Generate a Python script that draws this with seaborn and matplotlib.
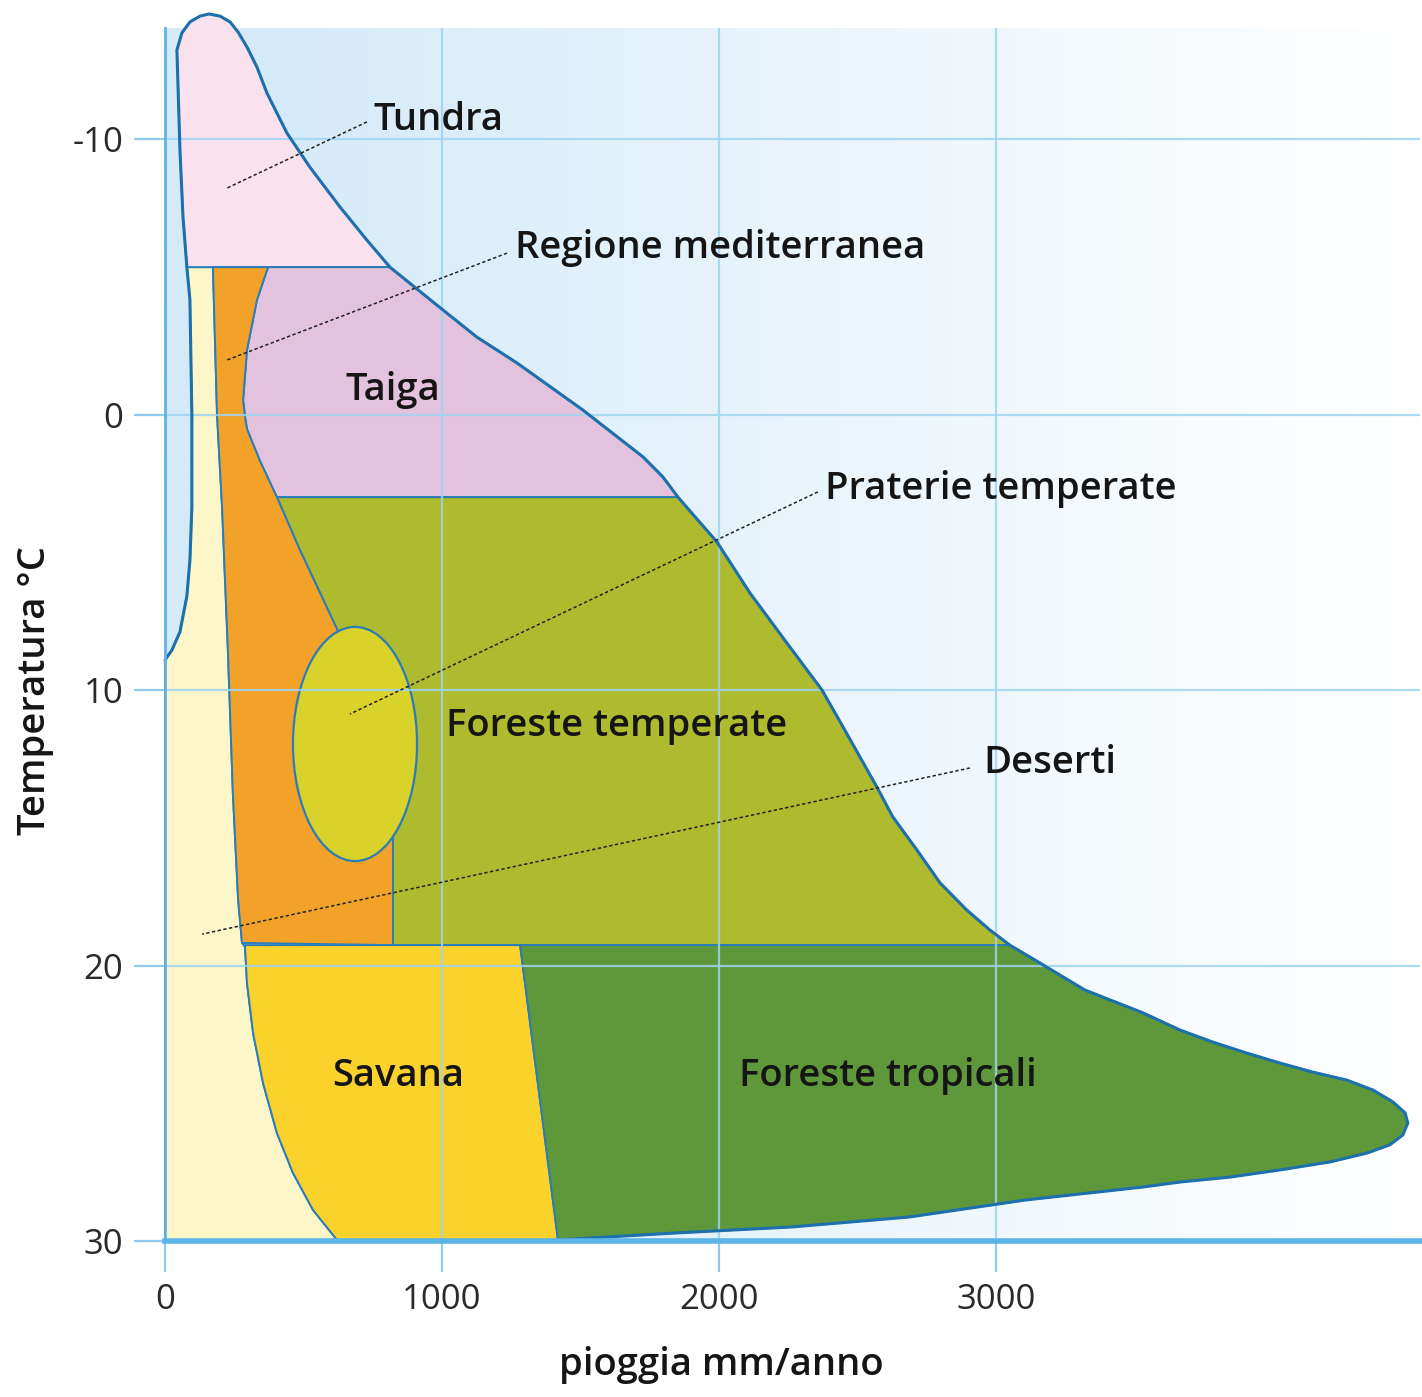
import numpy as np
import pandas as pd
import matplotlib
matplotlib.use("Agg")
import matplotlib.pyplot as plt
from matplotlib.patches import Ellipse
import seaborn as sns

sns.set_theme(style="white")
plt.rcParams["font.family"] = ["Open Sans", "DejaVu Sans"]

# ---- axis values --------------------------------------------------------
x_ticks = [0, 1000, 2000, 3000]
x_tick_labels = ["0", "1000", "2000", "3000"]
y_ticks = [-10, 0, 10, 20, 30]
y_tick_labels = ["-10", "0", "10", "20", "30"]
x_max = 4531
y_top, y_bottom = -14.03, 30

# ---- biome boundaries (rain mm/anno, temperature °C) --------------------
# outer edge on the dry side, from the axis up to the tundra
edge_left_x = [0, 25, 54, 79, 90, 97, 97, 90, 79]
edge_left_y = [8.91, 8.55, 7.89, 6.59, 5.28, 3.36, 0.02, -4.16, -5.35]

# tundra: left side going up, then round the top
tundra_left_x = [79, 65, 54, 43, 61, 90, 126, 159, 199, 235, 264, 296]
tundra_left_y = [-5.35, -7.17, -9.6, -13.23, -13.85, -14.25, -14.46, -14.54, -14.46, -14.25, -13.88, -13.34]
# tundra: right side going down
tundra_right_x = [296, 332, 368, 440, 523, 632, 729, 812]
tundra_right_y = [-13.34, -12.61, -11.67, -10.22, -8.98, -7.53, -6.33, -5.35]

# taiga outer edge
taiga_right_x = [812, 1004, 1126, 1271, 1509, 1726, 1798, 1852]
taiga_right_y = [-5.35, -3.79, -2.81, -1.87, -0.16, 1.54, 2.27, 3.0]

# temperate forest outer edge
temperate_right_x = [1852, 1993, 2112, 2245, 2372, 2448, 2509, 2570, 2628, 2715, 2798, 2895, 2978, 3050]
temperate_right_y = [3.0, 4.63, 6.48, 8.29, 10.0, 11.34, 12.43, 13.52, 14.61, 15.81, 17.0, 17.99, 18.71, 19.26]

# tropical forest outer edge
tropical_edge_x = [3050, 3159, 3321, 3531, 3664, 3783, 3906, 4025, 4144, 4267, 4361, 4433,
                   4477, 4487, 4469, 4422, 4339, 4206, 4025, 3845, 3664, 3531, 3108, 2686,
                   2264, 1841, 1419]
tropical_edge_y = [19.26, 19.91, 20.89, 21.72, 22.34, 22.78, 23.18, 23.54, 23.87, 24.16, 24.52, 24.95,
                   25.35, 25.72, 26.15, 26.51, 26.81, 27.13, 27.42, 27.68, 27.86, 28.04, 28.51, 29.13,
                   29.49, 29.71, 29.96]

# mediterranean strip: dry side (top to bottom)
med_left_x = [173, 188, 206, 227, 245, 264, 278]
med_left_y = [-5.35, 0.05, 3.36, 8.55, 13.74, 17.62, 19.18]
# mediterranean strip: wet side (top to bottom, down to the grassland oval)
med_right_x = [372, 332, 296, 282, 289, 296, 343, 404, 487, 560, 621]
med_right_y = [-5.35, -4.16, -2.34, -0.53, 0.09, 0.53, 1.69, 3.0, 4.92, 6.48, 7.79]
med_split_x = 823           # straight border under the oval
med_split_top = 14.0

# savanna dry side (top to bottom)
savana_left_x = [289, 296, 318, 354, 404, 462, 534, 621]
savana_left_y = [19.33, 20.64, 22.45, 24.27, 26.08, 27.53, 28.87, 29.96]
savana_right_x = [1282, 1419]
savana_right_y = [19.26, 29.96]

tundra_base = -5.35
taiga_base = 3.0
warm_base = 19.26

# temperate grassland oval: centre, width, height
prairie_center = (686, 11.96)
prairie_width = 448
prairie_height = 8.5

# ---- labels -------------------------------------------------------------
label_text = ["Tundra", "Regione mediterranea", "Taiga", "Praterie temperate",
              "Foreste temperate", "Deserti", "Savana", "Foreste tropicali"]
label_x = [751, 1264, 823, 2383, 1014, 2953, 841, 2610]
label_y = [-10.69, -6.04, -0.89, 2.70, 11.31, 12.65, 24.01, 24.01]
label_ha = ["left", "left", "center", "left", "left", "left", "center", "center"]

leader_start_x = [729, 1235, 2357, 2906]
leader_start_y = [-10.62, -5.86, 2.81, 12.83]
leader_end_x = [224, 224, 668, 134]
leader_end_y = [-8.22, -1.98, 10.87, 18.86]

# ---- colours ------------------------------------------------------------
c_tundra = "#f9e2ee"
c_taiga = "#e2c2dc"
c_med = "#f2a229"
c_desert = "#fdf6c9"
c_temperate = "#aebb2e"
c_prairie = "#d8d22b"
c_savana = "#fbd12c"
c_tropical = "#5e983a"
c_edge = "#2a7db8"
c_grid = "#9fd4f0"

fig = plt.figure(figsize=(14.22, 13.97), dpi=100)
ax = fig.add_axes([165 / 1422, 1 - 1241 / 1397, 1255 / 1422, 1213 / 1397])

# background: light blue fading to white towards high rainfall
t = np.linspace(0, 1, 600)
w = np.clip((t - 0.10) / 0.90, 0, 1) ** 0.9
c0 = np.array([213, 234, 248]) / 255
grad = c0[None, :] * (1 - w[:, None]) + w[:, None]
ax.imshow(grad[None, :, :], extent=[0, x_max, y_bottom, y_top], aspect="auto",
          zorder=0, interpolation="bilinear")


def poly(xs, ys, color, z=2):
    ax.fill(xs, ys, facecolor=color, edgecolor=c_edge, linewidth=1.4,
            zorder=z, clip_on=False, joinstyle="round")


# desert
desert_x = [0] + edge_left_x + med_left_x + savana_left_x + [621, 0]
desert_y = [y_bottom] + edge_left_y + med_left_y + savana_left_y + [y_bottom, y_bottom]
poly(desert_x, desert_y, c_desert)

# tundra
poly(tundra_left_x + tundra_right_x, tundra_left_y + tundra_right_y, c_tundra)

# taiga
taiga_x = med_right_x[:8] + taiga_right_x[::-1]
taiga_y = med_right_y[:8] + taiga_right_y[::-1]
poly(taiga_x, taiga_y, c_taiga)

# temperate forest
temp_x = med_right_x[7:] + [med_split_x, med_split_x] + temperate_right_x[::-1]
temp_y = med_right_y[7:] + [med_split_top, warm_base] + temperate_right_y[::-1]
poly(temp_x, temp_y, c_temperate)

# mediterranean strip
med_x = med_left_x + [med_split_x, med_split_x] + med_right_x[::-1]
med_y = med_left_y + [warm_base, med_split_top] + med_right_y[::-1]
poly(med_x, med_y, c_med)

# savanna
sav_x = savana_left_x + [621] + savana_right_x[::-1]
sav_y = savana_left_y + [y_bottom] + savana_right_y[::-1]
poly(sav_x + [savana_left_x[0]], sav_y + [warm_base], c_savana)

# tropical forest
trop_x = savana_right_x[:1] + tropical_edge_x + [1419]
trop_y = [warm_base] + tropical_edge_y + [y_bottom]
poly(trop_x, trop_y, c_tropical)

# temperate grassland oval
ax.add_patch(Ellipse(prairie_center, prairie_width, prairie_height,
                     facecolor=c_prairie, edgecolor=c_edge, linewidth=1.6, zorder=3))

# outer envelope drawn as one stronger line
outline = pd.DataFrame({
    "x": edge_left_x + tundra_left_x[1:] + tundra_right_x[1:] + taiga_right_x[1:]
         + temperate_right_x[1:] + tropical_edge_x[1:],
    "y": edge_left_y + tundra_left_y[1:] + tundra_right_y[1:] + taiga_right_y[1:]
         + temperate_right_y[1:] + tropical_edge_y[1:],
})
sns.lineplot(data=outline, x="x", y="y", sort=False, estimator=None, ax=ax,
             color="#1e70ad", linewidth=2.2, zorder=5)
ax.lines[-1].set_clip_on(False)
ax.lines[-1].set_solid_joinstyle("round")

# grid on top of the fills
for gx in x_ticks[1:]:
    ax.axvline(gx, color=c_grid, linewidth=1.6, alpha=0.85, zorder=4)
for gy in y_ticks[:-1]:
    ax.axhline(gy, color=c_grid, linewidth=1.6, alpha=0.85, zorder=4)

# leader lines
for sx, sy, ex, ey in zip(leader_start_x, leader_start_y, leader_end_x, leader_end_y):
    seg = pd.DataFrame({"x": [sx, ex], "y": [sy, ey]})
    sns.lineplot(data=seg, x="x", y="y", sort=False, estimator=None, ax=ax,
                 color="#222222", linewidth=1.1, zorder=6)
    ax.lines[-1].set_linestyle((0, (2.2, 1.6)))

# labels
for txt, lx, ly, ha in zip(label_text, label_x, label_y, label_ha):
    ax.text(lx, ly, txt, ha=ha, va="center", fontsize=27.5, color="#151515",
            fontweight="semibold", zorder=7)

ax.set_xlim(0, x_max)
ax.set_ylim(y_bottom, y_top)

ax.set_xticks(x_ticks)
ax.set_xticklabels(x_tick_labels)
ax.set_yticks(y_ticks)
ax.set_yticklabels(y_tick_labels)
ax.tick_params(axis="both", which="major", direction="out", length=22, width=1.6,
               color="#8fcbee", labelsize=25, labelcolor="#2a2a2a", pad=8,
               bottom=True, left=True)

for s in ["top", "right"]:
    ax.spines[s].set_visible(False)
ax.spines["left"].set_color("#5fb3e3")
ax.spines["left"].set_linewidth(2)
ax.spines["bottom"].set_color("#5ab4e6")
ax.spines["bottom"].set_linewidth(4)
ax.spines["left"].set_zorder(8)
ax.spines["bottom"].set_zorder(8)

ax.set_xlabel("pioggia mm/anno", fontsize=27.5, color="#151515", fontweight="semibold")
ax.set_ylabel("Temperatura °C", fontsize=27.5, color="#151515", fontweight="semibold")
ax.xaxis.set_label_coords(0.443, -0.102)
ax.xaxis.label.set_va("center")
ax.yaxis.set_label_coords(-0.1036, 0.454)
ax.yaxis.label.set_va("center")

fig.savefig("out.png", dpi=100)
